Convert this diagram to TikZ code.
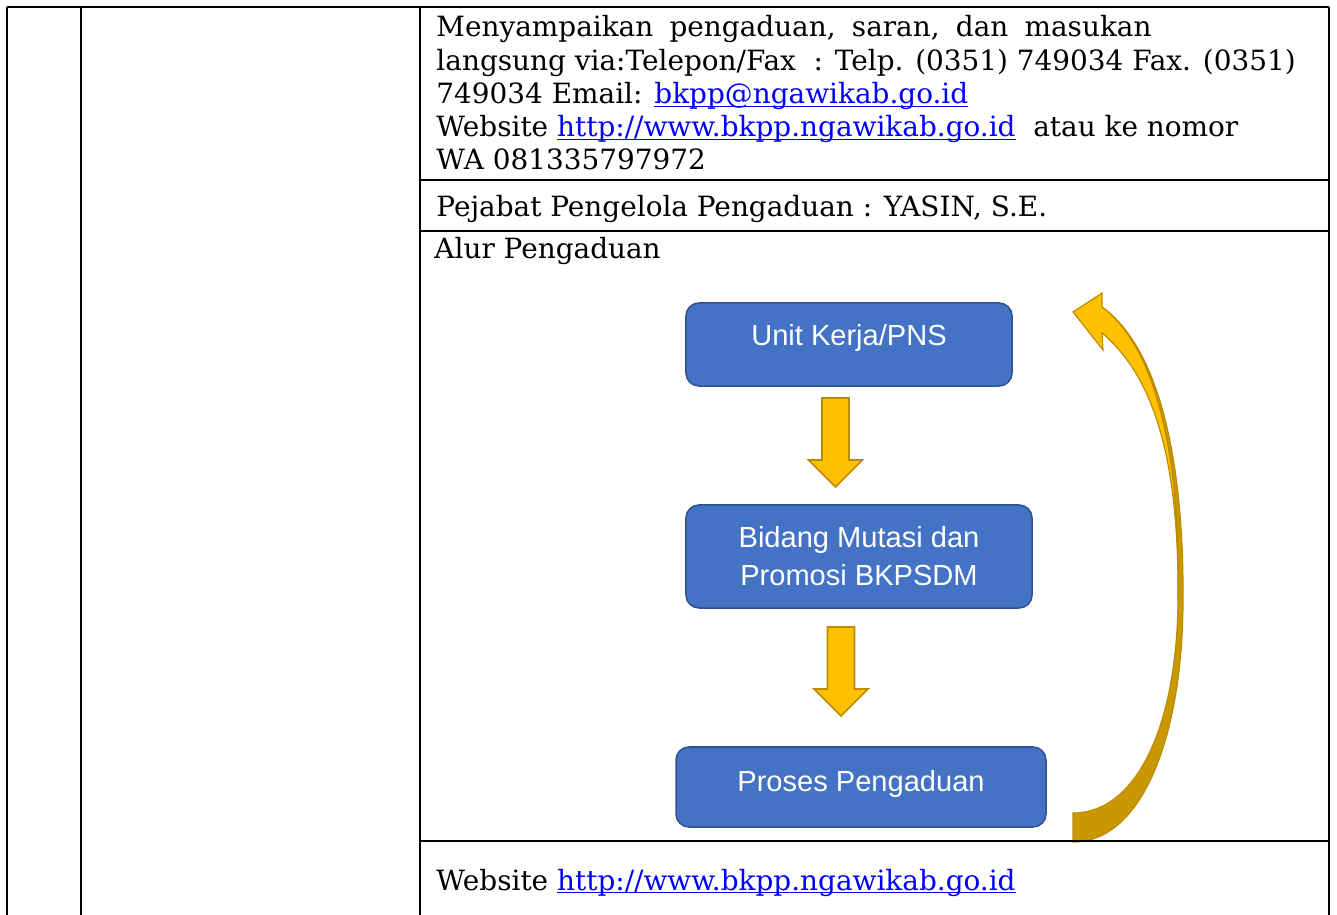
\documentclass[tikz,border=0pt]{standalone}
\usepackage{fontspec}
\setmainfont{DejaVu Serif}
\setsansfont{Liberation Sans}
\usepackage{xcolor}
\definecolor{boxblue}{RGB}{68,114,196}
\definecolor{boxedge}{RGB}{47,82,143}
\definecolor{goldlight}{RGB}{255,192,0}
\definecolor{golddark}{RGB}{201,151,0}
\definecolor{goldedge}{RGB}{188,140,0}
\definecolor{linkblue}{RGB}{0,0,255}
\newcommand{\Lnk}[1]{\setbox0\hbox{{\color{linkblue}#1}}\rlap{{\color{linkblue}\rule[-1.4pt]{\wd0}{0.55pt}}}\box0}

\begin{document}
\begin{tikzpicture}[x=0.43pt, y=-0.43pt,
    celltext/.style={anchor=base west, inner sep=0pt, font=\fontsize{12}{14.3}\selectfont},
    flowbox/.style={draw=boxedge, line width=0.65pt, fill=boxblue, rounded corners=5.6pt,
      text=white, font=\sffamily\fontsize{12.5}{16.3}\selectfont, inner sep=0pt},
    blkarrow/.style={draw=goldedge, fill=goldlight, line width=0.7pt, line join=miter},
    tblline/.style={line width=0.85pt}]
    \useasboundingbox (0,0) rectangle (1337,915);
    % text of the right cell
    \node[celltext] (l1) at (436,37) {\hbox to 307.5pt{Menyampaikan\hfill pengaduan,\hfill saran,\hfill dan\hfill masukan}};
    \node[celltext] (l2) at (436,71) {langsung via:Telepon/Fax\ \ : Telp. (0351) 749034 Fax. (0351)};
    \node[celltext] (l3) at (436,104) {749034 Email: \Lnk{bkpp@ngawikab.go.id}};
    \node[celltext] (l4) at (436,137) {Website \Lnk{http://www.bkpp.ngawikab.go.id}\ \ atau ke nomor};
    \node[celltext] (l5) at (436,170) {WA 081335797972};
    \node[celltext] (pejabat) at (436,217) {Pejabat Pengelola Pengaduan : YASIN, S.E.};
    \node[celltext] (alur) at (434,259) {Alur Pengaduan};
    \node[celltext] (web) at (436,890) {Website \Lnk{http://www.bkpp.ngawikab.go.id}};
    % flow
    \node[flowbox, minimum width=140.2pt, minimum height=35.7pt, text height=9pt, text depth=8pt]
      (unit) at (849,344.5) {Unit Kerja/PNS};
    \node[flowbox, align=center, minimum width=148.8pt, minimum height=44.3pt]
      (bidang) at (859,556.5) {Bidang Mutasi dan\\Promosi BKPSDM};
    \node[flowbox, minimum width=159.1pt, minimum height=34.4pt, text height=9pt, text depth=5pt]
      (proses) at (861,787) {Proses Pengaduan};
    \foreach \cx/\ty in {835.5/398, 841/627}{
      \draw[blkarrow] (\cx-13.5,\ty) -- (\cx+13.5,\ty) -- (\cx+13.5,\ty+62) -- (\cx+27,\ty+62)
        -- (\cx,\ty+89) -- (\cx-27,\ty+62) -- (\cx-13.5,\ty+62) -- cycle;
    }
    % curved arrow back to the top
    \draw[draw=goldedge, fill=golddark, line width=0.5pt]
      (1073,842) .. controls (1145,842) and (1183,730) .. (1183,600)
      .. controls (1184,480) and (1165,352) .. (1102,307)
      .. controls (1160,350) and (1181,470) .. (1178,600)
      .. controls (1177,725) and (1137,813) .. (1073,813) -- cycle;
    \draw[draw=goldedge, fill=goldlight, line width=0.5pt, line join=miter]
      (1102,307) -- (1102,293) -- (1073,312) -- (1103,350) -- (1102,333)
      .. controls (1158,380) and (1179,470) .. (1178,600)
      .. controls (1181,470) and (1160,350) .. (1102,307) -- cycle;
    % table rules
    \draw[tblline] (7,7) -- (1329,7);
    \foreach \x in {7,81,420,1329}
      \draw[tblline] (\x,7) -- (\x,915);
    \foreach \y in {180,231,841}
      \draw[tblline] (420,\y) -- (1329,\y);
\end{tikzpicture}
\end{document}
